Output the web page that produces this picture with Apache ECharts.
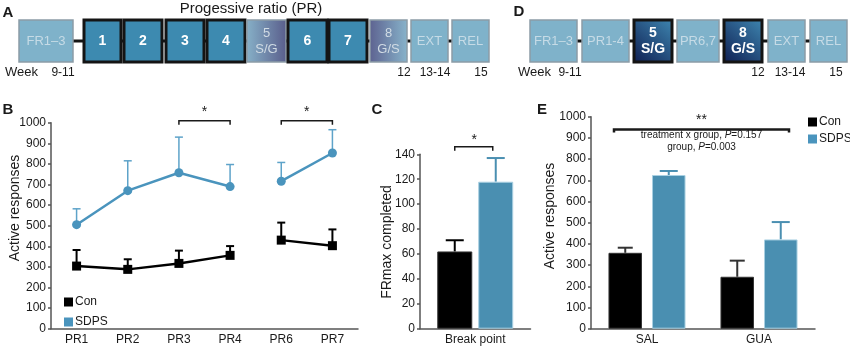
<!DOCTYPE html>
<html>
<head>
<meta charset="utf-8">
<script src="https://cdn.jsdelivr.net/npm/echarts@6/dist/echarts.min.js"></script>
<style>
  html, body { margin: 0; padding: 0; background: #fff; }
  #main { width: 850px; height: 348px; }
</style>
</head>
<body>
<div id="main"></div>
<script>
// ---- data ----
var stepsA = ['FR1–3', '1', '2', '3', '4', '5\nS/G', '6', '7', '8\nG/S', 'EXT', 'REL'];
var stepsD = ['FR1–3', 'PR1-4', '5\nS/G', 'PR6,7', '8\nG/S', 'EXT', 'REL'];
var weekLabels = ['9-11', '12', '13-14', '15'];

var prCategories = ['PR1', 'PR2', 'PR3', 'PR4', 'PR6', 'PR7'];
var conPR = [304, 288, 317, 356, 430, 403];
var conPRTop = [382, 337, 379, 401, 515, 482];     // top of error bar
var sdpsPR = [505, 670, 757, 690, 716, 853];
var sdpsPRTop = [582, 815, 930, 797, 807, 966];

var breakCategories = ['Break point'];
var conBreak = [62];
var conBreakTop = [71];
var sdpsBreak = [118];
var sdpsBreakTop = [137];

var drugCategories = ['SAL', 'GUA'];
var conDrug = [358, 245];
var conDrugTop = [382, 321];
var sdpsDrug = [725, 421];
var sdpsDrugTop = [744, 503];

// ---- layout / styles ----
var FONT = '"Liberation Sans", Arial, Helvetica, sans-serif';
var BLUE = '#4a94bd';
var BAR_BLUE = '#4a8fb1';
var AXIS = '#555';

var boxXA = [[19, 73], [84, 121], [124, 162], [166, 204], [207, 245], [247, 286], [288, 327], [329, 367], [370, 407], [411, 448], [452, 489]];
var boxKindA = ['light', 'dark', 'dark', 'dark', 'dark', 'sg', 'dark', 'dark', 'gs', 'light', 'light'];
var weekXA = [63, 404, 435, 481];
var boxXD = [[530, 577], [582, 629], [634, 672], [677, 719], [724, 762], [768, 805], [810, 847]];
var boxKindD = ['light', 'light', 'navy', 'light', 'navy', 'light', 'light'];
var weekXD = [570, 758, 790, 836];

function grad(x2, y2, from, to, x1, y1) {
    return new echarts.graphic.LinearGradient(x1 || 0, y1 || 0, x2, y2, [
        { offset: 0, color: from }, { offset: 1, color: to }
    ]);
}

var BOX_STYLE = {
    light: { fill: function () { return '#7fb2ca'; }, stroke: '#8c9ca6', lw: 1.5, color: '#c6dbe6', font: '13px ' + FONT },
    dark: { fill: function () { return '#3d8ab0'; }, stroke: '#141414', lw: 3, color: '#fff', font: 'bold 14px ' + FONT },
    sg: { fill: function () { return grad(1, 0, '#87b1c8', '#595d8b'); }, stroke: '#8c9ca6', lw: 1.5, color: '#d0dbe4', font: '13px ' + FONT },
    gs: { fill: function () { return grad(1, 0, '#5d6290', '#88b4cb'); }, stroke: '#8c9ca6', lw: 1.5, color: '#d0dbe4', font: '13px ' + FONT },
    navy: { fill: function () { return grad(0, 1, '#3f88b2', '#0e1c50', 1, 0); }, stroke: '#141414', lw: 3, color: '#fff', font: 'bold 14px ' + FONT }
};

function textEl(x, y, text, font, opt) {
    opt = opt || {};
    return {
        type: 'text', x: x, y: y, rotation: opt.rotation || 0, z: 10,
        style: {
            text: text, font: font, fill: opt.fill || '#1a1a1a',
            align: opt.align || 'center', verticalAlign: 'middle',
            lineHeight: opt.lineHeight, rich: opt.rich
        }
    };
}

// schedule diagram (panels A and D)
function buildSchedule(labels, xs, kinds, weekX, weekLeft) {
    var out = [];
    out.push({
        type: 'line', z: 1,
        shape: { x1: xs[0][1], y1: 41, x2: xs[xs.length - 1][0], y2: 41 },
        style: { stroke: '#141414', lineWidth: 3 }
    });
    labels.forEach(function (label, i) {
        var k = BOX_STYLE[kinds[i]];
        out.push({
            type: 'rect', z: 2,
            shape: { x: xs[i][0], y: 20, width: xs[i][1] - xs[i][0], height: 42 },
            style: { fill: k.fill(), stroke: k.stroke, lineWidth: k.lw }
        });
        out.push(textEl((xs[i][0] + xs[i][1]) / 2, 41, label, k.font, { fill: k.color, lineHeight: 16 }));
    });
    out.push(textEl(weekLeft, 72, 'Week', '13px ' + FONT, { align: 'left' }));
    weekLabels.forEach(function (w, i) {
        out.push(textEl(weekX[i], 73, w, '12px ' + FONT));
    });
    return out;
}

function segment(values, from, to) {
    return values.map(function (v, i) { return i >= from && i < to ? v : '-'; });
}

function errData(values, tops) {
    return values.map(function (v, i) { return [i, v, tops[i]]; });
}

// upper error bar, offset in px from the category centre
function errorBar(offset, color, width, cap) {
    return function (params, api) {
        var p = api.coord([api.value(0), api.value(1)]);
        var t = api.coord([api.value(0), api.value(2)]);
        var x = p[0] + offset;
        var st = { stroke: color, lineWidth: width };
        return {
            type: 'group',
            children: [
                { type: 'line', shape: { x1: x, y1: p[1], x2: x, y2: t[1] }, style: st },
                { type: 'line', shape: { x1: x - cap / 2, y1: t[1], x2: x + cap / 2, y2: t[1] }, style: st }
            ]
        };
    };
}

function catAxis(idx, data) {
    return {
        type: 'category', gridIndex: idx, data: data,
        axisLine: { lineStyle: { color: AXIS, width: 1.5 } },
        axisTick: { length: 4, lineStyle: { color: AXIS, width: 1.5 } },
        axisLabel: { color: '#1a1a1a', fontSize: 12, fontFamily: FONT, margin: 5 }
    };
}

function valAxis(idx, max, interval) {
    return {
        type: 'value', gridIndex: idx, min: 0, max: max, interval: interval,
        splitLine: { show: false },
        axisLine: { show: true, lineStyle: { color: AXIS, width: 1.5 } },
        axisTick: { show: true, length: 3, lineStyle: { color: AXIS, width: 1.5 } },
        axisLabel: {
            color: '#1a1a1a', fontSize: 12, fontFamily: FONT, margin: 5,
            formatter: function (v) { return String(v); }
        }
    };
}

var chart = echarts.init(document.getElementById('main'));

var C_OFF = (35 + 6) / 2;
var E_OFF = (33.5 + 10) / 2;

var series = [
    { name: 'errConB', type: 'custom', xAxisIndex: 0, yAxisIndex: 0, z: 1, data: errData(conPR, conPRTop), renderItem: errorBar(0, '#000', 2, 8) },
    { name: 'errSdpsB', type: 'custom', xAxisIndex: 0, yAxisIndex: 0, z: 1, data: errData(sdpsPR, sdpsPRTop), renderItem: errorBar(0, '#5ea3c9', 1.5, 8) }
];
// lines are broken between PR4 and PR6
[[0, 4], [4, 6]].forEach(function (b) {
    series.push({
        name: 'Con', type: 'line', xAxisIndex: 0, yAxisIndex: 0, z: 3,
        data: segment(conPR, b[0], b[1]), symbol: 'rect', symbolSize: 9,
        itemStyle: { color: '#000' }, lineStyle: { color: '#000', width: 2.5 }
    });
    series.push({
        name: 'SDPS', type: 'line', xAxisIndex: 0, yAxisIndex: 0, z: 3,
        data: segment(sdpsPR, b[0], b[1]), symbol: 'circle', symbolSize: 9,
        itemStyle: { color: BLUE }, lineStyle: { color: BLUE, width: 2.5 }
    });
});
series.push(
    { name: 'Con', type: 'bar', xAxisIndex: 1, yAxisIndex: 1, data: conBreak, barWidth: 35, barGap: '17%', itemStyle: { color: '#000', borderColor: '#333', borderWidth: 1 } },
    { name: 'SDPS', type: 'bar', xAxisIndex: 1, yAxisIndex: 1, data: sdpsBreak, barWidth: 35, barGap: '17%', itemStyle: { color: BAR_BLUE, borderColor: '#a9d0e2', borderWidth: 1 } },
    { name: 'errConC', type: 'custom', xAxisIndex: 1, yAxisIndex: 1, z: 1, data: errData(conBreak, conBreakTop), renderItem: errorBar(-C_OFF, '#000', 2, 18) },
    { name: 'errSdpsC', type: 'custom', xAxisIndex: 1, yAxisIndex: 1, z: 1, data: errData(sdpsBreak, sdpsBreakTop), renderItem: errorBar(C_OFF, BAR_BLUE, 2, 18) },
    { name: 'Con', type: 'bar', xAxisIndex: 2, yAxisIndex: 2, data: conDrug, barWidth: 33.5, barGap: '30%', itemStyle: { color: '#000', borderColor: '#333', borderWidth: 1 } },
    { name: 'SDPS', type: 'bar', xAxisIndex: 2, yAxisIndex: 2, data: sdpsDrug, barWidth: 33.5, barGap: '30%', itemStyle: { color: BAR_BLUE, borderColor: '#a9d0e2', borderWidth: 1 } },
    { name: 'errConE', type: 'custom', xAxisIndex: 2, yAxisIndex: 2, z: 1, data: errData(conDrug, conDrugTop), renderItem: errorBar(-E_OFF, '#333', 2, 15) },
    { name: 'errSdpsE', type: 'custom', xAxisIndex: 2, yAxisIndex: 2, z: 1, data: errData(sdpsDrug, sdpsDrugTop), renderItem: errorBar(E_OFF, BAR_BLUE, 2, 18) }
);

var legendItems = [{ name: 'Con', icon: 'rect' }, { name: 'SDPS', icon: 'rect' }];

chart.setOption({
    animation: false,
    textStyle: { fontFamily: FONT },
    grid: [
        { left: 51, top: 122.7, width: 307, height: 206 },
        { left: 420, top: 154.3, width: 110.5, height: 174.4 },
        { left: 591, top: 116.7, width: 224, height: 212 }
    ],
    xAxis: [catAxis(0, prCategories), catAxis(1, breakCategories), catAxis(2, drugCategories)],
    yAxis: [valAxis(0, 1000, 100), valAxis(1, 140, 20), valAxis(2, 1000, 100)],
    legend: [
        { left: 59, top: 291, orient: 'vertical', itemWidth: 9, itemHeight: 9, itemGap: 8, data: legendItems, selectedMode: false, textStyle: { fontSize: 12, color: '#1a1a1a', padding: [0, 0, 0, -3] } },
        { left: 803, top: 111, orient: 'vertical', itemWidth: 9, itemHeight: 9, itemGap: 5, data: legendItems, selectedMode: false, textStyle: { fontSize: 12, color: '#1a1a1a', padding: [0, 0, 0, -3] } }
    ],
    series: series
});

// ---- annotations, placed from data values ----
function px(grid, cat, value) {
    return chart.convertToPixel({ xAxisIndex: grid, yAxisIndex: grid }, [cat, value]);
}

function bracket(x1, x2, y, drop, width) {
    return {
        type: 'polyline', z: 10,
        shape: { points: [[x1, y + drop], [x1, y], [x2, y], [x2, y + drop]] },
        style: { stroke: '#1a1a1a', lineWidth: width || 1.5, fill: null }
    };
}

var g = [];
g = g.concat(buildSchedule(stepsA, boxXA, boxKindA, weekXA, 5));
g = g.concat(buildSchedule(stepsD, boxXD, boxKindD, weekXD, 518));
g.push(textEl(251, 9, 'Progessive ratio (PR)', '15px ' + FONT));

// panel letters
[['A', 8, 13], ['B', 8, 110], ['C', 377, 110], ['D', 519, 12], ['E', 542, 110]].forEach(function (l) {
    g.push(textEl(l[1], l[2], l[0], 'bold 15px ' + FONT));
});

// axis titles
g.push(textEl(15, 208, 'Active responses', '14px ' + FONT, { rotation: Math.PI / 2 }));
g.push(textEl(387, 242, 'FRmax completed', '14px ' + FONT, { rotation: Math.PI / 2 }));
g.push(textEl(550, 216, 'Active responses', '14px ' + FONT, { rotation: Math.PI / 2 }));

// B: PR3-PR4 and PR6-PR7
[['PR3', 'PR4'], ['PR6', 'PR7']].forEach(function (pair) {
    var a = px(0, pair[0], 1010), b = px(0, pair[1], 1010);
    g.push(bracket(a[0], b[0], a[1], 4));
    g.push(textEl((a[0] + b[0]) / 2, a[1] - 8, '*', '14px ' + FONT));
});

// C: Con vs SDPS
var c = px(1, 'Break point', 146);
g.push(bracket(c[0] - C_OFF, c[0] + C_OFF - 3, c[1], 4));
g.push(textEl(c[0] - 1, c[1] - 7, '*', '14px ' + FONT));

// E: group effect
var e1 = px(2, 'SAL', 940), e2 = px(2, 'GUA', 940);
var ex1 = e1[0] - 33, ex2 = e2[0] + 30, emid = (ex1 + ex2) / 2;
var richP = { n: { fontSize: 10, fontFamily: FONT }, i: { fontSize: 10, fontFamily: FONT, fontStyle: 'italic' } };
g.push(bracket(ex1, ex2, e1[1], 3, 2.5));
g.push(textEl(emid, e1[1] - 9, '**', '14px ' + FONT));
g.push(textEl(emid, e1[1] + 6, '{n|treatment x group, }{i|P}{n|=0.157}', '10px ' + FONT, { rich: richP }));
g.push(textEl(emid, e1[1] + 18, '{n|group, }{i|P}{n|=0.003}', '10px ' + FONT, { rich: richP }));

chart.setOption({ graphic: g });

window.addEventListener('resize', function () {
    chart.resize();
});
</script>
</body>
</html>
